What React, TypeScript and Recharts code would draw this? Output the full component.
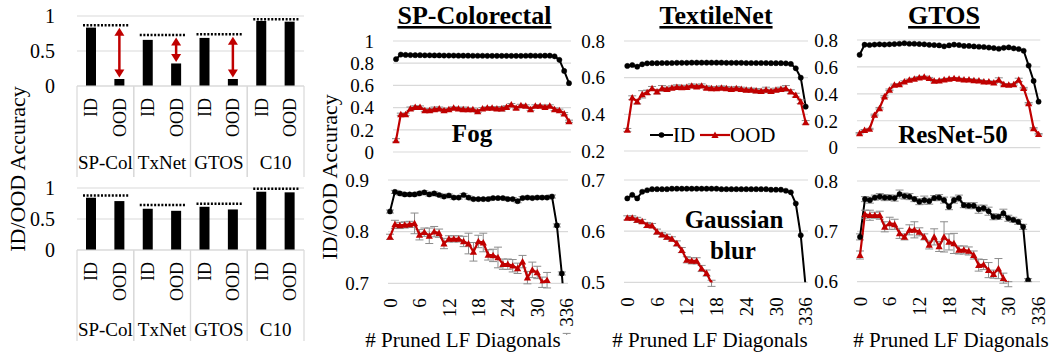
import React from "react";
import { BarChart, Bar, LineChart, Line, XAxis, YAxis, CartesianGrid, ErrorBar } from "recharts";

const FONT = "'Liberation Serif', 'Times New Roman', serif";
const GRID = "#d9d9d9";
const RED = "#c00000";
const ERR = "#8c8c8c";

// ---- bar panels (left) ----
const groups = ["SP-Col", "TxNet", "GTOS", "C10"];
const fogBarId = [0.834, 0.659, 0.687, 0.929];
const fogBarOod = [0.1, 0.322, 0.1, 0.919];
const fogBarRef = [0.867, 0.73, 0.739, 0.953];
const fogBarGap = [true, true, true, false];
const resBarId = [0.843, 0.665, 0.697, 0.94];
const resBarOod = [0.789, 0.632, 0.654, 0.93];
const resBarRef = [0.881, 0.724, 0.746, 0.989];
const resBarGap = [false, false, false, false];

// ---- line panels ----
const pruned = [
  "0", "1", "2", "3", "4", "5", "6", "7", "8", "9",
  "10", "11", "12", "13", "14", "15", "16", "17", "18", "19",
  "20", "21", "22", "23", "24", "25", "26", "27", "28", "29",
  "30", "31", "32", "33", "34", "35", "336",
];

const spFogId = [
  0.836, 0.878, 0.875, 0.873, 0.872, 0.872, 0.871, 0.871, 0.87, 0.87,
  0.869, 0.869, 0.869, 0.868, 0.868, 0.868, 0.867, 0.867, 0.867, 0.866,
  0.866, 0.866, 0.866, 0.866, 0.866, 0.866, 0.866, 0.867, 0.868, 0.867,
  0.867, 0.868, 0.868, 0.862, 0.83, 0.73, 0.62,
];
const spFogOod = [
  0.105, 0.34, 0.34, 0.39, 0.405, 0.405, 0.376, 0.376, 0.385, 0.39,
  0.376, 0.385, 0.397, 0.39, 0.385, 0.385, 0.385, 0.367, 0.39, 0.397,
  0.397, 0.39, 0.39, 0.405, 0.427, 0.397, 0.42, 0.415, 0.385, 0.415,
  0.415, 0.405, 0.415, 0.385, 0.376, 0.346, 0.277,
];
const spFogOodErr = [
  0.015, 0.01, 0.01, 0.015, 0.012, 0.01, 0.01, 0.015, 0.02, 0.015,
  0.012, 0.01, 0.01, 0.01, 0.02, 0.01, 0.01, 0.01, 0.01, 0.01,
  0.012, 0.015, 0.02, 0.012, 0.01, 0.01, 0.01, 0.01, 0.01, 0.01,
  0.01, 0.01, 0.01, 0.012, 0.01, 0.01, 0.01,
];
const spBlurId = [
  0.839, 0.877, 0.874, 0.872, 0.872, 0.872, 0.874, 0.876, 0.872, 0.874,
  0.871, 0.868, 0.87, 0.866, 0.866, 0.871, 0.866, 0.863, 0.863, 0.863,
  0.863, 0.865, 0.865, 0.865, 0.863, 0.863, 0.859, 0.865, 0.866, 0.865,
  0.866, 0.866, 0.866, 0.868, 0.812, 0.719, 0.6,
];
const spBlurIdErr = [
  0.003, 0.003, 0.003, 0.003, 0.003, 0.003, 0.003, 0.003, 0.003, 0.003,
  0.003, 0.003, 0.003, 0.003, 0.003, 0.003, 0.003, 0.003, 0.003, 0.003,
  0.003, 0.003, 0.003, 0.003, 0.003, 0.003, 0.003, 0.003, 0.003, 0.003,
  0.003, 0.003, 0.003, 0.003, 0.003, 0.003, 0.003,
];
const spBlurOod = [
  0.79, 0.814, 0.812, 0.813, 0.814, 0.816, 0.794, 0.799, 0.792, 0.8,
  0.797, 0.777, 0.786, 0.786, 0.786, 0.781, 0.777, 0.761, 0.781, 0.779,
  0.755, 0.754, 0.75, 0.737, 0.737, 0.734, 0.729, 0.742, 0.711, 0.726,
  0.721, 0.702, 0.706, null, null, null, null,
];
const spBlurOodErr = [
  0.005, 0.008, 0.006, 0.006, 0.006, 0.02, 0.01, 0.008, 0.015, 0.01,
  0.008, 0.01, 0.006, 0.006, 0.006, 0.01, 0.02, 0.018, 0.012, 0.018,
  0.01, 0.012, 0.02, 0.01, 0.01, 0.012, 0.01, 0.012, 0.012, 0.015,
  0.012, 0.01, 0.015, null, null, null, null,
];

const txFogId = [
  0.664, 0.669, 0.66, 0.673, 0.678, 0.679, 0.679, 0.68, 0.68, 0.68,
  0.681, 0.681, 0.681, 0.682, 0.682, 0.682, 0.682, 0.682, 0.682, 0.682,
  0.681, 0.681, 0.681, 0.681, 0.68, 0.68, 0.68, 0.68, 0.68, 0.679,
  0.679, 0.679, 0.678, 0.675, 0.651, 0.6, 0.442,
];
const txFogOod = [
  0.315, 0.491, 0.469, 0.509, 0.52, 0.542, 0.524, 0.542, 0.538, 0.545,
  0.549, 0.547, 0.549, 0.556, 0.551, 0.556, 0.545, 0.542, 0.542, 0.545,
  0.542, 0.538, 0.542, 0.538, 0.533, 0.533, 0.529, 0.527, 0.533, 0.527,
  0.533, 0.538, 0.542, 0.524, 0.505, 0.469, 0.356,
];
const txFogOodErr = [
  0.008, 0.01, 0.012, 0.02, 0.012, 0.01, 0.012, 0.015, 0.01, 0.01,
  0.012, 0.01, 0.01, 0.01, 0.01, 0.01, 0.01, 0.01, 0.01, 0.01,
  0.01, 0.01, 0.01, 0.01, 0.01, 0.01, 0.012, 0.01, 0.015, 0.01,
  0.01, 0.01, 0.015, 0.01, 0.01, 0.01, 0.01,
];
const txBlurId = [
  0.664, 0.671, 0.664, 0.677, 0.68, 0.682, 0.682, 0.682, 0.682, 0.683,
  0.683, 0.683, 0.683, 0.683, 0.683, 0.683, 0.683, 0.683, 0.683, 0.682,
  0.682, 0.682, 0.682, 0.682, 0.682, 0.682, 0.682, 0.682, 0.682, 0.681,
  0.681, 0.681, 0.679, 0.676, 0.654, 0.592, 0.49,
];
const txBlurOod = [
  0.626, 0.626, 0.622, 0.619, 0.612, 0.611, 0.599, 0.593, 0.589, 0.585,
  0.576, 0.563, 0.544, 0.542, 0.542, 0.527, 0.518, 0.498, null, null,
  null, null, null, null, null, null, null, null, null, null,
  null, null, null, null, null, null, null,
];
const txBlurOodErr = [
  0.004, 0.004, 0.005, 0.004, 0.005, 0.004, 0.005, 0.004, 0.005, 0.004,
  0.005, 0.005, 0.006, 0.006, 0.006, 0.006, 0.006, 0.006, null, null,
  null, null, null, null, null, null, null, null, null, null,
  null, null, null, null, null, null, null,
];

const gtFogId = [
  0.69, 0.765, 0.763, 0.766, 0.768, 0.766, 0.768, 0.77, 0.772, 0.776,
  0.772, 0.772, 0.77, 0.768, 0.764, 0.762, 0.76, 0.753, 0.76, 0.766,
  0.762, 0.756, 0.756, 0.752, 0.75, 0.748, 0.744, 0.74, 0.735, 0.742,
  0.745, 0.738, 0.733, 0.72, 0.61, 0.496, 0.342,
];
const gtFogOod = [
  0.107, 0.13, 0.139, 0.243, 0.293, 0.38, 0.43, 0.466, 0.471, 0.491,
  0.504, 0.511, 0.521, 0.526, 0.516, 0.496, 0.499, 0.506, 0.511, 0.516,
  0.511, 0.506, 0.506, 0.501, 0.499, 0.491, 0.491, 0.484, 0.504, 0.471,
  0.466, 0.471, 0.504, 0.442, 0.33, 0.144, 0.1,
];
const gtFogOodErr = [
  0.005, 0.005, 0.005, 0.006, 0.006, 0.006, 0.006, 0.006, 0.006, 0.006,
  0.006, 0.006, 0.008, 0.006, 0.006, 0.006, 0.006, 0.006, 0.006, 0.006,
  0.006, 0.006, 0.006, 0.008, 0.006, 0.006, 0.006, 0.006, 0.015, 0.006,
  0.006, 0.006, 0.012, 0.006, 0.006, 0.005, 0.005,
];
const gtBlurId = [
  0.689, 0.764, 0.762, 0.767, 0.769, 0.767, 0.767, 0.766, 0.774, 0.77,
  0.769, 0.764, 0.759, 0.762, 0.76, 0.766, 0.767, 0.762, 0.749, 0.762,
  0.766, 0.752, 0.751, 0.751, 0.744, 0.746, 0.74, 0.729, 0.729, 0.736,
  0.726, 0.723, 0.719, 0.709, 0.603, null, null,
];
const gtBlurIdErr = [
  0.006, 0.005, 0.006, 0.005, 0.006, 0.006, 0.005, 0.006, 0.008, 0.006,
  0.006, 0.005, 0.006, 0.008, 0.006, 0.005, 0.006, 0.006, 0.006, 0.006,
  0.006, 0.005, 0.006, 0.006, 0.008, 0.006, 0.008, 0.006, 0.005, 0.008,
  0.006, 0.005, 0.005, 0.005, 0.003, null, null,
];
const gtBlurOod = [
  0.653, 0.734, 0.732, 0.732, 0.732, 0.709, 0.716, 0.714, 0.696, 0.689,
  0.703, 0.703, 0.699, 0.689, 0.673, 0.689, 0.67, 0.689, 0.679, 0.676,
  0.663, 0.663, 0.661, 0.653, 0.633, 0.634, 0.623, 0.615, 0.626, 0.607,
  0.595, null, null, null, null, null, null,
];
const gtBlurOodErr = [
  0.008, 0.008, 0.01, 0.006, 0.008, 0.01, 0.012, 0.01, 0.01, 0.006,
  0.01, 0.016, 0.008, 0.006, 0.008, 0.016, 0.01, 0.03, 0.016, 0.02,
  0.008, 0.008, 0.008, 0.008, 0.012, 0.01, 0.015, 0.008, 0.02, 0.01,
  0.005, null, null, null, null, null, null,
];

// ---- layout ----
const BAR_L = 77;
const BAR_R = 304;
const BAND = (BAR_R - BAR_L) / 8;
const YW = 60;
const MT = 14;
const MR = 14;
const MB = 14;
const XH = 50;

type Num = number | null;
type PanelCfg = {
  gridL: number; gridR: number; top: number; bottom: number; padL: number; padR: number;
  domain: [number, number]; ticks: number[];
  id: Num[]; ood: Num[]; idErr?: Num[]; oodErr?: Num[]; showX: boolean;
};

const panels: PanelCfg[] = [
  { gridL: 393, gridR: 571, top: 40.7, bottom: 151.7, padL: 3, padR: 2, domain: [0, 1], ticks: [0, 0.2, 0.4, 0.6, 0.8, 1], id: spFogId, ood: spFogOod, oodErr: spFogOodErr, showX: false },
  { gridL: 388, gridR: 568, top: 180, bottom: 283.3, padL: 2, padR: 1.3, domain: [0.7, 0.9], ticks: [0.7, 0.8, 0.9], id: spBlurId, ood: spBlurOod, idErr: spBlurIdErr, oodErr: spBlurOodErr, showX: true },
  { gridL: 624, gridR: 808, top: 41, bottom: 151, padL: 3.3, padR: 2.3, domain: [0.2, 0.8], ticks: [0.2, 0.4, 0.6, 0.8], id: txFogId, ood: txFogOod, oodErr: txFogOodErr, showX: false },
  { gridL: 624, gridR: 808, top: 180, bottom: 282.3, padL: 3.3, padR: 2.3, domain: [0.5, 0.7], ticks: [0.5, 0.6, 0.7], id: txBlurId, ood: txBlurOod, oodErr: txBlurOodErr, showX: true },
  { gridL: 856.7, gridR: 1040, top: 40, bottom: 147.7, padL: 2.6, padR: 1.7, domain: [0, 0.8], ticks: [0, 0.2, 0.4, 0.6, 0.8], id: gtFogId, ood: gtFogOod, oodErr: gtFogOodErr, showX: false },
  { gridL: 857, gridR: 1040, top: 181, bottom: 281.7, padL: 3, padR: 2, domain: [0.6, 0.8], ticks: [0.6, 0.7, 0.8], id: gtBlurId, ood: gtBlurOod, idErr: gtBlurIdErr, oodErr: gtBlurOodErr, showX: true },
];

const RotTick = (p: any) => (
  <text x={p.x} y={p.y} transform={`rotate(-90 ${p.x} ${p.y})`} textAnchor="end" dy="0.35em" fontSize={19} fontFamily={FONT} fill="#000">
    {p.payload.value}
  </text>
);

const TriDot = (p: any) => {
  const { cx, cy, value, index } = p;
  if (cx == null || cy == null || value == null || isNaN(cy)) return <g key={`t${index}`} />;
  const s = 3.6;
  return <polygon key={`t${index}`} points={`${cx},${cy - s} ${cx + s},${cy + s * 0.8} ${cx - s},${cy + s * 0.8}`} fill={RED} />;
};

function LinePanel({ cfg }: { cfg: PanelCfg }) {
  const data = pruned.map((x, i) => ({
    x,
    id: cfg.id[i],
    ood: cfg.ood[i],
    idErr: cfg.idErr ? cfg.idErr[i] : null,
    oodErr: cfg.oodErr ? cfg.oodErr[i] : null,
  }));
  const w = YW + (cfg.gridR - cfg.gridL) + MR;
  const mb = cfg.showX ? 2 : MB;
  const h = MT + (cfg.bottom - cfg.top) + (cfg.showX ? XH : 0) + mb;
  return (
    <div style={{ position: "absolute", left: cfg.gridL - YW, top: cfg.top - MT }}>
      <LineChart width={w} height={h} data={data} margin={{ top: MT, right: MR, bottom: mb, left: 0 }} style={{ overflow: "visible" }}>
        <CartesianGrid vertical={false} stroke={GRID} strokeWidth={1.2} />
        <XAxis
          dataKey="x"
          interval={5}
          hide={!cfg.showX}
          height={cfg.showX ? XH : 0}
          padding={{ left: cfg.padL, right: cfg.padR }}
          axisLine={false}
          tickLine={false}
          tickSize={0}
          tickMargin={15}
          tick={RotTick}
        />
        <YAxis
          domain={cfg.domain}
          ticks={cfg.ticks}
          interval={0}
          allowDataOverflow
          width={YW}
          axisLine={false}
          tickLine={false}
          tickSize={0}
          tickMargin={19}
          tick={{ fontSize: 19, fill: "#000", fontFamily: FONT }}
        />
        <Line dataKey="id" stroke="#000" strokeWidth={2} dot={{ r: 2.6, fill: "#000", stroke: "#000", strokeWidth: 0.5 }} isAnimationActive={false}>
          {cfg.idErr ? <ErrorBar dataKey="idErr" width={4} stroke={ERR} strokeWidth={1} /> : null}
        </Line>
        <Line dataKey="ood" stroke={RED} strokeWidth={2.2} dot={TriDot} isAnimationActive={false}>
          <ErrorBar dataKey="oodErr" width={4} stroke={ERR} strokeWidth={1} />
        </Line>
      </LineChart>
    </div>
  );
}

const SubTick = (p: any) => (
  <text x={p.x} y={p.y} transform={`rotate(-90 ${p.x} ${p.y})`} textAnchor="end" dy="0.35em" fontSize={18} fontFamily={FONT} fill="#000">
    {p.payload.value}
  </text>
);

const groupTick = (base: number) => (p: any) => {
  const half = BAND;
  return (
    <g>
      <line x1={p.x - half} x2={p.x - half} y1={p.y - 60} y2={p.y + 31} stroke={GRID} strokeWidth={1.2} />
      <line x1={p.x + half} x2={p.x + half} y1={p.y - 60} y2={p.y + 31} stroke={GRID} strokeWidth={1.2} />
      <text x={p.x} y={p.y + base} textAnchor="middle" fontSize={19} fontFamily={FONT} fill="#000">
        {p.payload.value}
      </text>
    </g>
  );
};

function BarShape(p: any) {
  const { x, y, width, height, payload } = p;
  const per = height / payload.v;
  const base = y + height;
  const ry = base - payload.ref * per;
  const cx = x + width / 2;
  const t = ry + 2.5;
  const b = y - 1.5;
  return (
    <g>
      <rect x={x} y={y} width={width} height={height} fill="#000" />
      {payload.kind === "id" && (
        <line x1={x - 3} x2={x + BAND + width + 4} y1={ry} y2={ry} stroke="#000" strokeWidth={2.5} strokeDasharray="2 1.6" />
      )}
      {payload.gap && (
        <g>
          <line x1={cx} x2={cx} y1={t + 6} y2={b - 6} stroke={RED} strokeWidth={2.5} />
          <polygon points={`${cx},${t} ${cx - 5},${t + 8} ${cx + 5},${t + 8}`} fill={RED} />
          <polygon points={`${cx},${b} ${cx - 5},${b - 8} ${cx + 5},${b - 8}`} fill={RED} />
        </g>
      )}
    </g>
  );
}

function BarPanel({ top, plotH, ids, oods, refs, gaps, base }: { top: number; plotH: number; ids: number[]; oods: number[]; refs: number[]; gaps: boolean[]; base: number }) {
  const rows = groups.flatMap((g, i) => [
    { cat: "ID", group: g, v: ids[i], ref: refs[i], kind: "id", gap: false },
    { cat: "OOD", group: g, v: oods[i], ref: refs[i], kind: "ood", gap: gaps[i] },
  ]);
  const MTB = 16;
  return (
    <div style={{ position: "absolute", left: 0, top: top - MTB }}>
      <BarChart width={BAR_R + 6} height={MTB + plotH + 91} data={rows} margin={{ top: MTB, right: 6, bottom: 0, left: 0 }} barSize={10}>
        <CartesianGrid vertical={false} stroke={GRID} strokeWidth={1.2} />
        <XAxis dataKey="cat" interval={0} tick={SubTick} tickLine={false} tickSize={0} tickMargin={12} axisLine={{ stroke: GRID, strokeWidth: 1.2 }} height={60} />
        <XAxis xAxisId="grp" dataKey="group" allowDuplicatedCategory={false} interval={0} tick={groupTick(base)} tickLine={false} axisLine={false} tickSize={0} tickMargin={0} height={31} />
        <YAxis domain={[0, 1]} ticks={[0, 0.5, 1]} interval={0} width={BAR_L} axisLine={false} tickLine={false} tickSize={0} tickMargin={22} tick={{ fontSize: 20, fill: "#000", fontFamily: FONT }} />
        <Bar dataKey="v" fill="#000" shape={BarShape} isAnimationActive={false} />
      </BarChart>
    </div>
  );
}

export default function App() {
  const txt = { fontFamily: FONT, fill: "#000" } as const;
  return (
    <div style={{ position: "absolute", left: 0, top: 0, width: 1058, height: 355, background: "#fff", fontFamily: FONT, overflow: "hidden" }}>
      <BarPanel top={16} plotH={70} ids={fogBarId} oods={fogBarOod} refs={fogBarRef} gaps={fogBarGap} base={23} />
      <BarPanel top={188} plotH={62} ids={resBarId} oods={resBarOod} refs={resBarRef} gaps={resBarGap} base={26} />
      {panels.map((cfg, i) => (
        <LinePanel key={i} cfg={cfg} />
      ))}
      <svg width={1058} height={355} style={{ position: "absolute", left: 0, top: 0, pointerEvents: "none" }}>
        <text {...txt} x={17} y={169} fontSize={22} textAnchor="middle" dy="0.35em" transform="rotate(-90 17 169)">ID/OOD Accuracy</text>
        <text {...txt} x={329} y={177} fontSize={22} textAnchor="middle" dy="0.35em" transform="rotate(-90 329 177)">ID/OOD Accuracy</text>

        <text {...txt} x={474.5} y={24} fontSize={26} fontWeight="bold" textAnchor="middle" textDecoration="underline">SP-Colorectal</text>
        <text {...txt} x={716} y={24} fontSize={26} fontWeight="bold" textAnchor="middle" textDecoration="underline">TextileNet</text>
        <text {...txt} x={944} y={24} fontSize={26} fontWeight="bold" textAnchor="middle" textDecoration="underline">GTOS</text>

        <text {...txt} x={472} y={142} fontSize={25} fontWeight="bold" textAnchor="middle">Fog</text>
        <text {...txt} x={953} y={142.5} fontSize={25} fontWeight="bold" textAnchor="middle">ResNet-50</text>
        <text {...txt} x={734} y={228} fontSize={25} fontWeight="bold" textAnchor="middle">Gaussian</text>
        <text {...txt} x={733} y={259} fontSize={25} fontWeight="bold" textAnchor="middle">blur</text>

        <text {...txt} x={463} y={347} fontSize={21} textAnchor="middle"># Pruned LF Diagonals</text>
        <text {...txt} x={710} y={347} fontSize={21} textAnchor="middle"># Pruned LF Diagonals</text>
        <text {...txt} x={951} y={347} fontSize={21} textAnchor="middle"># Pruned LF Diagonals</text>

        <g>
          <line x1={650} x2={673} y1={135} y2={135} stroke="#000" strokeWidth={2} />
          <circle cx={661.5} cy={135} r={2.8} fill="#000" />
          <text {...txt} x={673} y={142} fontSize={21}>ID</text>
          <line x1={700} x2={730} y1={135} y2={135} stroke={RED} strokeWidth={2.2} />
          <polygon points="715,131.4 718.6,137.9 711.4,137.9" fill={RED} />
          <text {...txt} x={730} y={142} fontSize={21}>OOD</text>
        </g>
      </svg>
    </div>
  );
}
